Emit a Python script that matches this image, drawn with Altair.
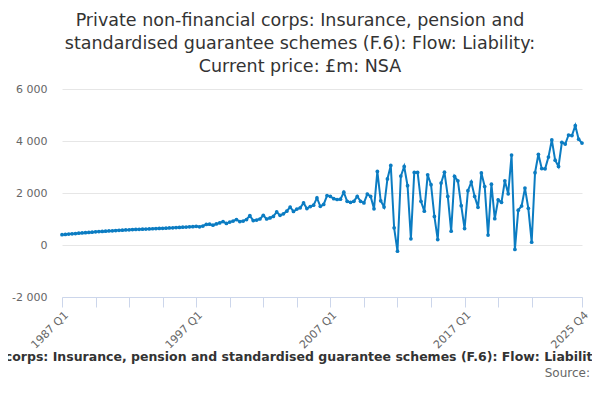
import altair as alt
import pandas as pd

# quarterly periods 1987 Q1 .. 2025 Q4
years = list(range(1987, 2026))
quarters = ["Q1", "Q2", "Q3", "Q4"]
periods = [f"{y} {q}" for y in years for q in quarters]

# £m
values = [
    395, 405, 420, 430, 440, 455, 465, 475, 485, 495,
    505, 515, 520, 530, 540, 545, 555, 565, 570, 580,
    585, 595, 600, 605, 610, 615, 620, 625, 630, 635,
    640, 645, 655, 660, 670, 675, 685, 690, 700, 705,
    720, 700, 730, 790, 800, 760, 810, 850, 900, 830,
    880, 920, 980, 900, 920, 980, 1130, 940, 960, 1000,
    1140, 1000, 1040, 1100, 1270, 1140, 1200, 1300, 1460, 1290,
    1380, 1430, 1620, 1400, 1480, 1530, 1810, 1490, 1560, 1900,
    1870, 1780, 1750, 1760, 2030, 1680, 1640, 1680, 1870, 1680,
    1620, 1960, 1870, 1390, 2830, 1700, 1460, 2540, 3060, 660,
    -240, 2650, 3020, 2280, 240, 2790, 2790, 1680, 1300, 2700,
    2320, 1100, 210, 2380, 2800, 1870, 530, 2640, 2470, 1510,
    630, 2090, 2420, 1870, 1450, 2770, 2250, 380, 2340, 1010,
    1740, 1640, 2470, 1970, 3460, -170, 1340, 1500, 2190, 1410,
    110, 2780, 3490, 2940, 2930, 3380, 4040, 3260, 3020, 3950,
    3880, 4230, 4210, 4590, 4070, 3920,
]

tick_periods = periods[0:150:10] + [periods[-1]]
label_periods = ["1987 Q1", "1997 Q1", "2007 Q1", "2017 Q1", "2025 Q4"]
y_ticks = [-2000, 0, 2000, 4000, 6000]

series_name = ("Private non-financial corps: Insurance, pension and standardised "
               "guarantee schemes (F.6): Flow: Liability: Current price: £m: NSA")
title_lines = ["Private non-financial corps: Insurance, pension and",
               "standardised guarantee schemes (F.6): Flow: Liability:",
               "Current price: £m: NSA"]

df = pd.DataFrame({"period": periods, "value": values})

blue = "#0b7cc2"
font = "DejaVu Sans"

label_expr = ("indexof(" + str(label_periods) + ", datum.value) >= 0 ? datum.value : ''")

line = alt.Chart(df).mark_line(
    color=blue, strokeWidth=2,
    point=alt.OverlayMarkDef(filled=True, size=14, color=blue)
).encode(
    x=alt.X("period:O", sort=None, scale=alt.Scale(padding=0),
            axis=alt.Axis(values=tick_periods, labelExpr=label_expr, labelAngle=-45,
                          labelFontSize=11, labelColor="#666666", labelFont=font,
                          domainColor="#ccd6eb", tickColor="#ccd6eb", tickSize=10,
                          grid=False, title=series_name, titleFont=font,
                          titleFontSize=12.5, titleFontWeight="bold", titleColor="#333333",
                          titlePadding=0, titleX=251, titleAlign="center")),
    y=alt.Y("value:Q", scale=alt.Scale(domain=[-2000, 6000], nice=False),
            axis=alt.Axis(values=y_ticks, title=None, domain=False, ticks=False,
                          labelPadding=15, labelFontSize=11, labelColor="#666666",
                          labelFont=font, gridColor="#e6e6e6",
                          labelExpr="replace(replace(format(datum.value, ','), ',', ' '), '\u2212', '-')")),
)

source = alt.Chart(pd.DataFrame({"t": ["Source:"]})).mark_text(
    align="right", baseline="middle", fontSize=12, color="#666666", font=font
).encode(x=alt.value(528), y=alt.value(284), text="t:N")

chart = alt.layer(line, source).properties(
    width=520, height=208,
    autosize="none",
    padding={"left": 54, "top": 81, "right": 10, "bottom": 95},
    title=alt.TitleParams(text=title_lines, font=font, fontSize=17.5,
                          fontWeight="normal", color="#333333", lineHeight=23,
                          anchor="middle", frame="group", dx=-22, offset=8),
).configure_view(stroke=None)

chart.save("out.html", embed_options={"renderer": "svg", "actions": False})
